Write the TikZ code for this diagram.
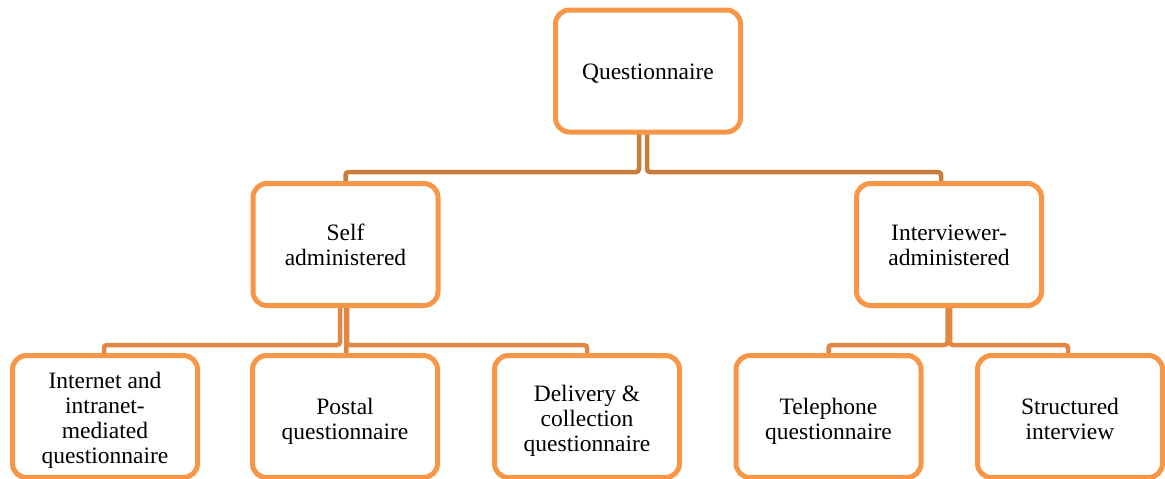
\documentclass[tikz,border=0pt]{standalone}
\usepackage{fontspec}
\setmainfont{Liberation Serif}
\usetikzlibrary{backgrounds}
\definecolor{boxc}{HTML}{F79646}
\definecolor{linkA}{HTML}{C87D3C}
\definecolor{linkB}{HTML}{E18741}
\tikzset{
  bx/.style={rectangle, draw=boxc, fill=white, line width=5pt, rounded corners=14pt,
    minimum width=185pt, minimum height=122pt, inner sep=0pt},
  tx/.style={align=center, inner sep=0pt, font=\fontsize{23.5}{25}\selectfont},
  lnA/.style={draw=linkA, line width=4.5pt, rounded corners=3pt},
  lnB/.style={draw=linkB, line width=4.5pt, rounded corners=3pt}
}
\begin{document}
\begin{tikzpicture}[x=1pt,y=-1pt]
\useasboundingbox (0,0) rectangle (1165,479);
\node[bx] (q) at (648,71) {};
\node[bx] (s) at (345.5,244.5) {};
\node[bx] (i) at (949,244.5) {};
\node[bx] (c1) at (105,416.5) {};
\node[bx] (c2) at (345,416.5) {};
\node[bx] (c3) at (587,416.5) {};
\node[bx] (c4) at (828.5,416.5) {};
\node[bx] (c5) at (1070,416.5) {};
\node[tx] (tq) at ([yshift=-3pt]q.center) {Questionnaire};
\node[tx] (ts) at ([yshift=0pt]s.center) {Self\\administered};
\node[tx] (ti) at ([yshift=-1pt]i.center) {Interviewer-\\administered};
\node[tx] (t1) at ([yshift=-4pt]c1.center) {Internet and\\intranet-\\mediated\\questionnaire};
\node[tx] (t2) at ([yshift=-5pt]c2.center) {Postal\\questionnaire};
\node[tx] (t3) at ([yshift=-4pt]c3.center) {Delivery \&\\collection\\questionnaire};
\node[tx] (t4) at ([yshift=-5pt]c4.center) {Telephone\\questionnaire};
\node[tx] (t5) at ([yshift=-2pt]c5.center) {Structured\\interview};
\coordinate (j1) at (0,172);
\coordinate (j2) at (0,345);
\begin{scope}[on background layer]
\draw[lnA] ([xshift=-9pt,yshift=4pt]q.south) |- (s.north |- j1) -- ([yshift=-4pt]s.north);
\draw[lnA] ([xshift=-1pt,yshift=4pt]q.south) |- ([xshift=-8pt]i.north |- j1) -- ([xshift=-8pt,yshift=-4pt]i.north);
\draw[lnB] ([xshift=-5.5pt,yshift=4pt]s.south) |- ([xshift=-1pt]c1.north |- j2) -- ([xshift=-1pt,yshift=-4pt]c1.north);
\draw[lnB] ([xshift=0.5pt,yshift=4pt]s.south) -- ([xshift=1.5pt,yshift=-4pt]c2.north);
\draw[lnB] ([xshift=1.5pt,yshift=4pt]s.south) |- (c3.north |- j2) -- ([yshift=-4pt]c3.north);
\draw[lnB] ([xshift=-1.5pt,yshift=4pt]i.south) |- (c4.north |- j2) -- ([yshift=-4pt]c4.north);
\draw[lnB] ([xshift=1pt,yshift=4pt]i.south) |- ([xshift=-2pt]c5.north |- j2) -- ([xshift=-2pt,yshift=-4pt]c5.north);
\end{scope}
\end{tikzpicture}
\end{document}
